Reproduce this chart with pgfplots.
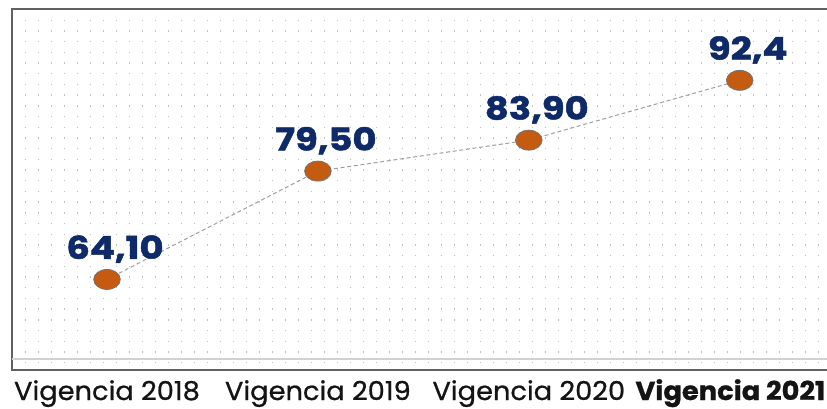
\documentclass[border=0pt]{standalone}
\usepackage{fontspec}
\setmainfont{Poppins}
\newfontfamily\labfont[FakeStretch=1.18, FakeBold=1.6]{Poppins}
\newfontfamily\tickfont[FakeStretch=1.05, FakeBold=0.8]{Poppins}
\usepackage{pgfplots}
\pgfplotsset{compat=1.18}
\definecolor{navy}{RGB}{14,42,104}
\definecolor{markorange}{RGB}{197,90,17}
\begin{document}
\begin{tikzpicture}
\begin{axis}[
  at={(0,0)}, anchor=south west,
  scale only axis, width=621pt, height=270.75pt,
  xmin=-0.4504, xmax=3.4756, ymin=51.23, ymax=102.54,
  axis line style={draw=black!62, line width=1.1pt},
  xtick={0,1,2,3},
  xticklabels={Vigencia 2018,Vigencia 2019,Vigencia 2020,{\bfseries\hspace*{-14pt}Vigencia 2021}},
  major tick length=0,
  ytick={52.27,53.791,...,101.5}, yticklabels={},
  ymajorgrids,
  grid style={black!24, line width=1.05pt, dash pattern=on 1.05pt off 8.7pt, dash phase=-9.75pt},
  extra y ticks={52.8}, extra y tick labels={},
  extra y tick style={grid style={solid, black!18, line width=0.9pt}},
  xticklabel style={font=\tickfont\fontsize{19.5}{19.5}\selectfont, text=black!92, anchor=base, yshift=-22.5pt},
  clip=false,
  nodes near coords, point meta=explicit symbolic,
  every node near coord/.append style={font=\labfont\fontsize{23.5}{23.5}\selectfont\bfseries, text=navy, anchor=base, xshift=6pt, yshift=15.5pt},
]
\addplot[draw=black!38, line width=0.75pt, dash pattern=on 3pt off 2pt,
  mark=*, mark size=7.5pt,
  mark options={solid, fill=markorange, draw=black!55, line width=0.6pt, xscale=1.33}]
  table[meta=lab] {
x y lab
0 64.1 64,10
1 79.5 79,50
2 83.9 83,90
3 92.4 92,4
};
\end{axis}
\pgfresetboundingbox
\path[use as bounding box] (-9pt,-28.5pt) rectangle (611.25pt,277.5pt);
\end{tikzpicture}
\end{document}
